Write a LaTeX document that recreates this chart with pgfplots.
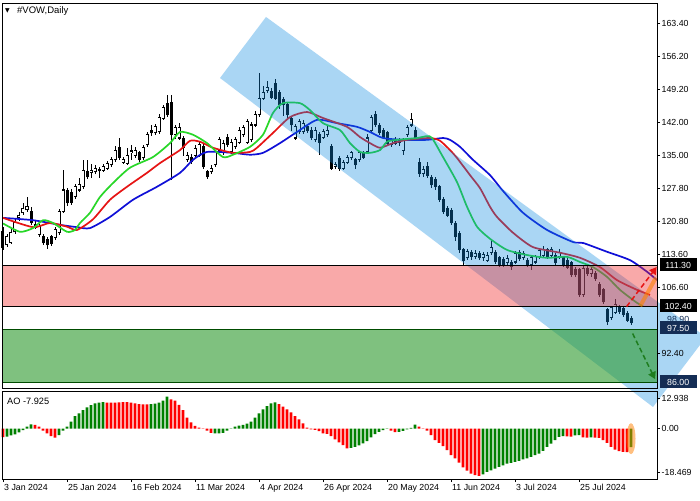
\documentclass[border=0pt]{standalone}
\usepackage{fontspec}
\setmainfont{Liberation Sans}
\newfontfamily\dejavu{DejaVu Sans}
\usepackage{pgfplots}
\pgfplotsset{compat=1.18}
\usepackage{pgfplotstable}
\usetikzlibrary{arrows.meta}

\definecolor{jaw}{RGB}{15,15,215}
\definecolor{teeth}{RGB}{230,20,20}
\definecolor{lips}{RGB}{40,215,40}
\definecolor{chan}{RGB}{12,138,226}
\definecolor{zred}{RGB}{242,42,42}
\definecolor{zgreen}{RGB}{43,153,43}
\definecolor{aogreen}{RGB}{0,128,0}
\definecolor{aored}{RGB}{255,0,0}
\definecolor{navy}{RGB}{20,45,85}
\definecolor{arrgreen}{RGB}{30,125,30}
\newcommand{\lbl}{\fontsize{8.8}{10}\selectfont}

\pgfplotstableread{
x o h l c
1 115.7 118.0 115.2 117.4
2 116.3 119.0 115.8 118.3
3 118.5 121.5 118.0 120.4
4 121.5 122.8 120.9 122.1
5 122.6 124.6 122.2 123.6
6 123.2 126.0 122.8 123.9
9 117.9 120.2 117.4 119.6
13 117.2 119.5 116.8 118.9
14 118.3 123.5 117.8 122.8
15 122.8 131.8 122.5 127.5
18 126.0 128.8 125.5 128.2
19 127.5 130.1 127.0 128.6
20 128.2 133.9 127.8 131.8
22 131.3 133.1 130.1 131.8
23 131.4 132.8 130.9 132.2
25 131.8 133.0 131.3 132.5
26 132.2 133.8 131.8 133.3
27 132.9 134.6 132.5 134.0
28 134.0 136.9 133.6 136.1
30 133.5 134.6 133.0 134.0
31 133.3 136.5 132.8 135.0
32 135.5 137.2 134.0 135.9
33 135.0 136.8 134.5 136.1
35 134.4 137.2 134.0 136.6
36 137.2 140.0 136.8 139.4
38 139.8 141.8 139.3 141.1
39 140.0 143.8 139.5 143.2
40 143.0 145.8 142.6 145.2
43 139.4 141.5 138.5 140.9
44 138.7 142.0 138.2 140.9
46 134.0 135.6 133.5 135.0
48 135.0 137.2 134.5 136.5
49 135.0 137.8 134.6 137.2
52 131.4 132.8 130.9 132.2
53 132.9 136.2 132.4 135.7
54 136.1 139.0 135.7 138.3
55 135.5 138.2 135.0 137.6
57 135.7 138.4 135.2 137.8
58 136.8 139.0 136.3 138.3
59 137.8 141.0 137.3 140.4
60 139.4 141.5 138.9 140.9
61 137.8 142.8 137.3 142.2
62 138.3 142.2 137.9 141.5
63 141.5 144.5 141.0 143.7
64 143.7 152.7 143.2 147.3
65 147.3 150.0 146.8 148.6
66 149.0 151.0 148.3 149.5
73 138.7 141.7 138.2 141.1
74 140.0 142.8 139.5 142.2
75 140.0 142.5 139.5 141.9
78 138.3 141.0 137.8 140.4
80 138.9 140.6 138.4 140.0
81 139.4 141.5 138.9 140.4
83 132.5 133.5 132.0 132.9
85 132.2 134.0 131.8 133.5
86 133.5 135.0 133.0 134.4
87 134.4 136.0 134.0 135.5
89 134.0 136.0 133.5 135.5
91 135.7 139.5 135.3 138.7
92 140.4 143.7 140.0 143.2
97 137.2 138.8 136.8 138.3
99 137.8 138.6 137.0 138.2
100 136.1 138.8 135.0 138.3
101 139.4 141.4 139.0 140.9
102 141.5 144.1 141.0 142.6
105 131.0 132.6 130.2 132.0
116 112.9 114.8 112.4 114.2
118 113.2 114.5 112.6 113.8
120 112.9 114.2 112.3 113.6
121 112.4 114.2 111.9 113.5
122 114.0 117.0 113.6 115.2
126 111.8 113.4 111.4 112.8
128 112.0 114.4 111.6 113.9
130 113.0 114.4 112.5 113.9
132 111.4 113.3 110.2 112.9
133 112.0 113.6 111.6 113.1
134 113.1 115.1 112.7 114.5
135 113.5 115.4 113.1 114.6
137 113.5 115.2 113.0 114.6
139 113.1 114.7 112.6 114.1
145 104.9 111.3 104.4 110.7
147 109.6 110.9 108.8 110.3
152 100.0 102.6 99.5 102.1
153 101.2 104.0 100.8 102.8
}\bull

\pgfplotstableread{
x o h l c
0 118.5 119.5 114.5 115.2
7 122.8 123.8 120.0 120.4
8 120.0 120.8 119.0 119.4
10 117.4 118.0 115.6 116.1
11 116.8 117.3 114.9 115.7
12 117.4 117.8 115.5 116.0
16 127.5 128.0 124.0 124.7
17 126.9 127.8 124.2 124.9
21 131.4 133.9 129.8 130.3
24 131.9 132.4 130.1 131.6
29 136.6 138.8 134.0 134.6
34 135.5 136.0 133.5 134.0
37 140.4 141.5 139.2 139.8
41 146.2 148.0 143.2 143.7
42 146.4 148.0 129.7 139.4
45 138.7 139.2 134.8 136.6
47 134.6 135.2 133.0 133.6
50 136.8 137.5 132.0 132.5
51 131.4 131.9 129.8 130.3
56 138.9 139.5 136.7 137.2
67 148.8 149.5 147.0 147.5
68 150.5 151.3 146.8 147.3
69 148.4 149.0 145.0 145.8
70 146.9 147.5 143.5 145.8
71 146.0 146.5 143.0 143.8
72 143.0 143.5 140.2 141.5
76 141.1 141.8 139.8 140.4
77 140.4 141.0 138.2 138.7
79 139.4 140.0 135.0 137.8
82 136.8 137.5 131.8 132.2
84 134.4 134.8 131.7 132.2
88 134.0 134.5 132.0 132.9
90 135.5 136.0 134.2 134.6
93 143.7 144.5 141.0 141.5
94 141.5 142.0 139.3 139.8
95 140.4 140.9 138.5 138.9
96 139.8 140.2 137.2 137.6
98 138.3 139.0 137.2 137.6
103 140.4 141.0 138.0 138.7
104 133.5 134.4 130.3 131.0
106 132.5 133.5 130.0 130.7
107 130.3 130.8 128.0 128.6
108 129.7 130.2 127.5 128.2
109 128.2 128.6 124.9 125.4
110 125.4 125.9 122.3 122.8
111 123.6 124.0 121.6 122.1
112 123.2 123.6 119.9 120.4
113 120.4 120.8 116.5 117.4
114 118.2 118.7 114.0 114.6
115 114.6 115.1 111.3 112.4
117 114.0 114.6 112.5 113.2
119 113.8 114.3 112.4 112.9
123 114.0 114.5 111.5 112.0
124 112.9 113.3 111.0 111.4
125 112.6 113.0 111.0 111.5
127 111.8 112.4 110.3 111.0
129 114.1 114.6 112.2 112.7
131 112.4 112.9 111.0 111.4
136 114.6 115.1 112.6 113.1
138 113.5 114.0 111.2 111.8
140 112.9 113.3 110.9 111.4
141 112.4 112.9 110.4 110.9
142 111.8 112.2 108.7 109.2
143 110.4 111.0 108.7 109.2
144 110.3 110.8 104.4 104.9
146 110.7 111.5 109.0 109.5
148 109.6 110.1 107.9 108.4
149 107.1 107.6 104.4 104.9
150 106.0 106.5 102.9 103.4
151 101.7 102.1 98.4 99.1
154 102.3 102.8 100.9 101.3
155 102.1 102.6 100.2 100.6
156 101.0 101.4 99.0 99.5
157 99.9 100.3 98.5 98.9
}\bear

\pgfplotstableread{
x v
1 -3.4
2 -2.9
3 -2.5
4 -1.6
5 -0.7
6 0.8
7 1.8
14 -2.8
15 -0.9
16 0.8
17 2.9
18 5.3
19 6.4
20 7.8
21 9.0
22 9.9
23 10.7
24 11.0
25 11.2
37 10.3
38 10.6
39 11.0
40 11.8
41 13.5
53 -2.1
54 -2.1
55 -1.8
56 -0.9
57 0.1
58 0.8
59 1.2
60 1.6
61 2.1
62 2.9
63 4.6
64 6.4
65 8.1
66 9.5
67 10.7
68 11.1
87 -8.2
88 -7.8
89 -7.1
90 -6.3
91 -5.3
92 -3.8
93 -2.4
94 -1.4
95 -0.7
96 -0.2
99 -1.4
100 -1.0
101 -0.4
102 0.3
103 1.7
120 -19.4
121 -18.4
122 -17.7
123 -17.0
124 -16.3
125 -15.6
126 -14.9
127 -14.6
128 -14.1
129 -13.7
130 -13.1
131 -12.7
132 -12.0
133 -11.3
134 -10.6
135 -9.5
136 -7.8
137 -6.4
138 -4.9
139 -3.5
140 -3.2
143 -2.9
144 -2.8
147 -3.8
157 -7.9
}\aogreentab

\pgfplotstableread{
x v
0 -3.6
8 1.5
9 0.8
10 -0.9
11 -2.1
12 -3.2
13 -3.9
26 11.0
27 11.0
28 11.0
29 11.1
30 11.2
31 11.2
32 11.0
33 10.7
34 10.3
35 10.2
36 10.2
42 12.4
43 11.8
44 10.0
45 7.8
46 4.6
47 2.6
48 1.1
49 0.4
50 -0.2
51 -0.9
52 -1.8
69 10.3
70 9.3
71 8.1
72 6.9
73 5.3
74 3.9
75 2.2
76 0.4
77 -0.4
78 -0.6
79 -1.1
80 -2.1
81 -2.3
82 -3.2
83 -4.6
84 -5.9
85 -7.0
86 -8.4
97 -0.9
98 -1.5
104 0.8
105 -0.2
106 -0.9
107 -2.8
108 -4.9
109 -6.1
110 -7.5
111 -9.2
112 -11.3
113 -12.7
114 -14.5
115 -16.5
116 -17.9
117 -19.1
118 -19.8
119 -20.1
141 -3.3
142 -3.4
145 -3.8
146 -3.9
148 -3.9
149 -4.0
150 -4.9
151 -6.1
152 -7.8
153 -8.9
154 -9.6
155 -9.9
156 -10.0
}\aoredtab

\begin{document}
\begin{tikzpicture}
\useasboundingbox (0pt,0pt) rectangle (700pt,500pt);
\fill[white] (0pt,0pt) rectangle (700pt,500pt);

\begin{axis}[
  at={(2pt,111.5pt)}, anchor=south west, scale only axis,
  width=655pt, height=385.5pt,
  xmin=-0.25, xmax=163.5, ymin=84.76, ymax=167.77,
  xtick=\empty,
  ytick={92.4,106.6,113.6,120.8,127.8,135,142,149.2,156.2,163.4},
  yticklabels={92.40,106.60,113.60,120.80,127.80,135.00,142.00,149.20,156.20,163.40},
  ytick pos=right, yticklabel pos=right, tick align=outside,
  major tick length=3pt, tick style={black, line width=0.6pt},
  yticklabel style={font=\lbl, inner sep=1.5pt},
  axis line style={line width=0.8pt},
  clip=false, axis on top,
]
% wicks
\addplot[draw=none, mark=none, error bars/.cd, y dir=both, y explicit, error mark=none,
  error bar style={draw=black, line width=0.9pt, solid}]
  table[x=x, y=o, y error plus expr=\thisrow{h}-\thisrow{o}, y error minus expr=\thisrow{o}-\thisrow{l}] {\bull};
\addplot[draw=none, mark=none, error bars/.cd, y dir=both, y explicit, error mark=none,
  error bar style={draw=black, line width=0.9pt, solid}]
  table[x=x, y=o, y error plus expr=\thisrow{h}-\thisrow{o}, y error minus expr=\thisrow{o}-\thisrow{l}] {\bear};
% bear bodies
\addplot[draw=none, mark=none, error bars/.cd, y dir=plus, y explicit, error mark=none,
  error bar style={draw=black, line width=3pt, solid}]
  table[x=x, y expr=\thisrow{c}-0.1, y error plus expr=\thisrow{o}-\thisrow{c}+0.2] {\bear};
% bull bodies
\addplot[draw=none, mark=none, error bars/.cd, y dir=plus, y explicit, error mark=none,
  error bar style={draw=black, line width=3pt, solid}]
  table[x=x, y expr=\thisrow{o}-0.11, y error plus expr=\thisrow{c}-\thisrow{o}+0.22] {\bull};
\addplot[draw=none, mark=none, error bars/.cd, y dir=plus, y explicit, error mark=none,
  error bar style={draw=white, line width=1.2pt, solid}]
  table[x=x, y expr=\thisrow{o}+0.11, y error plus expr={max(\thisrow{c}-\thisrow{o}-0.22,0)}] {\bull};

% Alligator lines
\addplot[jaw, line width=1.7pt, smooth, tension=0.4] coordinates {
(0,121.5) (7.5,121.0) (14.25,120.0) (18.5,119.5) (21.75,119.3) (26.75,121.7) (32.5,125.4)
(38.5,128.2) (44.25,131.2) (47.5,134.0) (51,135.7) (57.5,135.5) (61.75,135.1) (65,135.5)
(69.25,137.6) (73.5,140.0) (78.5,142.6) (83.5,141.9) (88.5,141.1) (91.75,140.0) (95,138.7)
(100,138.3) (106,138.3) (110,138.7) (111.75,138.3) (114.25,136.8) (117.5,134.0) (121.75,130.7)
(125,127.3) (130,122.6) (136,118.9) (142.5,116.3) (145,116.1) (151,114.2) (156.75,112.4)
(161,109.9) (163.5,108.1)};
\addplot[teeth, line width=1.7pt, smooth, tension=0.4] coordinates {
(0,121.5) (7.5,119.5) (11.75,120.4) (16,119.6) (18.5,118.9) (22.5,121.2) (26.75,125.4)
(31,128.2) (36,131.2) (39.25,133.3) (44.25,136.1) (46.75,138.1) (49.25,137.9) (52.5,136.6)
(57.5,135.5) (61.75,135.7) (63.5,136.6) (67.5,139.8) (71.75,143.2) (76,144.3) (80,143.0)
(86,141.1) (89.25,138.9) (91.75,137.6) (94.25,136.6) (97.5,137.6) (101,138.3) (106.75,138.7)
(109.25,138.1) (111.75,136.1) (113.5,134.4) (116.75,130.7) (119.25,127.9) (121.75,123.9)
(123.5,121.7) (127.5,118.3) (132.5,115.2) (139.25,114.0) (144.25,112.9) (149.25,110.9)
(153.5,108.1) (158.5,106.0) (161.75,104.9)};
\addplot[lips, line width=1.7pt, smooth, tension=0.4] coordinates {
(0,120.3) (4.25,118.5) (7.5,119.3) (10,121.0) (12.5,120.4) (16,118.5) (18,118.9)
(19.25,120.4) (21.75,122.6) (24.25,126.0) (27.5,129.0) (31.75,132.3) (37.5,134.6)
(41.75,137.6) (44.25,140.0) (47.5,139.4) (51,137.6) (55,134.6) (57.5,135.1) (61.75,136.8)
(65,139.4) (67.5,144.1) (70,146.2) (74.25,146.2) (76.75,144.7) (80,141.9) (84.25,140.4)
(86.75,137.6) (89.25,135.7) (91.75,135.5) (94.25,136.1) (96,137.9) (98.5,138.3)
(103.5,138.7) (106,139.1) (107.25,138.7) (110,134.6) (113.5,129.2) (116,123.9)
(118.5,119.6) (121.75,117.0) (126,114.6) (131,113.5) (136,112.9) (141,113.1)
(144.25,112.0) (147.5,110.9) (151,108.8) (154.25,106.0) (158.5,103.2) (160,102.5)};

% channel and zones
\addplot[draw=none, fill=chan, fill opacity=0.35] coordinates {
(54.25,151.62) (65.75,164.76) (175.75,95.85) (162.5,80.78)} -- cycle;
\addplot[draw=none, fill=zred, fill opacity=0.4] coordinates {
(-0.25,102.4) (163.5,102.4) (163.5,111.3) (-0.25,111.3)} -- cycle;
\addplot[draw=none, fill=zgreen, fill opacity=0.6] coordinates {
(-0.25,86) (163.5,86) (163.5,97.5) (-0.25,97.5)} -- cycle;
\addplot[black, line width=0.8pt] coordinates {(-0.25,111.3) (163.5,111.3)};
\addplot[black, line width=0.8pt] coordinates {(-0.25,102.4) (163.5,102.4)};
\addplot[black!70!green, line width=0.8pt] coordinates {(-0.25,97.5) (163.5,97.5)};
\addplot[black!70!green, line width=0.8pt] coordinates {(-0.25,86) (163.5,86)};

% arrows
\addplot[orange, opacity=0.6, line width=4pt] coordinates {(159.3,102.5) (163.2,108.6)};
\addplot[teeth, line width=1.5pt, dash pattern=on 5pt off 3pt,
  -{Triangle[length=7pt,width=8pt]}] coordinates {(155.9,102.4) (163.4,110.9)};
\addplot[arrgreen, line width=1.5pt, dash pattern=on 5pt off 3pt,
  -{Triangle[length=7pt,width=8pt]}] coordinates {(157.4,96.6) (163.0,86.8)};
\end{axis}

\begin{axis}[
  at={(2pt,21pt)}, anchor=south west, scale only axis,
  width=655pt, height=87.5pt,
  xmin=-0.25, xmax=163.5, ymin=-21.4, ymax=15.7,
  xtick={0,16,32,48,64,80,96,112,128,144},
  xticklabels={3 Jan 2024,25 Jan 2024,16 Feb 2024,11 Mar 2024,4 Apr 2024,26 Apr 2024,20 May 2024,11 Jun 2024,3 Jul 2024,25 Jul 2024},
  xtick pos=bottom, xticklabel pos=bottom,
  ytick={-18.469,0,12.938}, yticklabels={-18.469,0.00,12.938},
  ytick pos=right, yticklabel pos=right, tick align=outside,
  major tick length=3pt, tick style={black, line width=0.6pt},
  yticklabel style={font=\lbl, inner sep=1.5pt},
  xticklabel style={font=\lbl, anchor=north west, inner sep=1pt, yshift=-1pt},
  axis line style={line width=0.8pt},
  clip=false, axis on top,
]
\addplot[ybar, bar width=2.8pt, bar shift=0pt, fill=aogreen, draw=none] table[x=x, y=v] {\aogreentab};
\addplot[ybar, bar width=2.8pt, bar shift=0pt, fill=aored, draw=none] table[x=x, y=v] {\aoredtab};
\fill[orange, opacity=0.5] (axis cs:157,-4.3) ellipse [x radius=4.5pt, y radius=15.5pt];
\end{axis}

% titles
\node[anchor=west, inner sep=0pt] at (5pt,489pt) {\dejavu\fontsize{6}{6}\selectfont ▼};
\node[anchor=west, inner sep=0pt, font=\fontsize{9.5}{11}\selectfont] at (17pt,489pt) {\#VOW,Daily};
\node[anchor=west, inner sep=0pt, font=\fontsize{9.2}{11}\selectfont] at (7pt,99pt) {AO -7.925};

% price labels on the right
\node[anchor=west, inner sep=0pt, minimum width=37pt, minimum height=12pt, text=navy, font=\lbl] at (659.5pt,181pt) {98.90};
\node[anchor=west, fill=black, text=white, inner sep=0pt, minimum width=37pt, minimum height=13pt, font=\lbl] at (659.5pt,235pt) {111.30};
\node[anchor=west, fill=black, text=white, inner sep=0pt, minimum width=37pt, minimum height=13pt, font=\lbl] at (659.5pt,194pt) {102.40};
\node[anchor=west, fill=navy, text=white, inner sep=0pt, minimum width=37pt, minimum height=13pt, font=\lbl] at (659.5pt,172pt) {97.50};
\node[anchor=west, fill=navy, text=white, inner sep=0pt, minimum width=37pt, minimum height=13pt, font=\lbl] at (659.5pt,118pt) {86.00};
\end{tikzpicture}
\end{document}
